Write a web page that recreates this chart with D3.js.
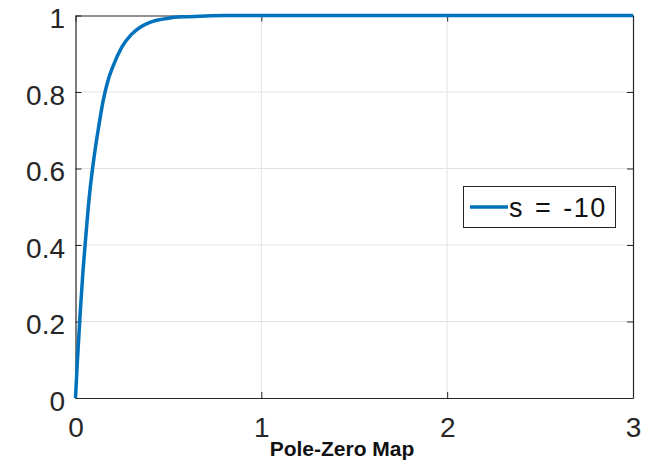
<!DOCTYPE html>
<html>
<head>
<meta charset="utf-8">
<script src="https://cdn.jsdelivr.net/npm/d3@7"></script>
<style>
  body { margin: 0; background: #fff; }
  svg { display: block; font-family: "Liberation Sans", Arial, sans-serif; }
</style>
</head>
<body>
<svg width="654" height="461"></svg>
<script>
// step response
const timeVals = [0, 0.01, 0.025, 0.04, 0.05, 0.075, 0.1, 0.125, 0.15, 0.175, 0.2, 0.25, 0.3, 0.35, 0.4, 0.5, 0.6, 0.7, 0.8, 1, 1.5, 2, 2.5, 3];
const respVals = [0, 0.095, 0.22, 0.33, 0.39, 0.53, 0.63, 0.71, 0.78, 0.83, 0.865, 0.918, 0.95, 0.97, 0.982, 0.993, 0.997, 0.999, 1, 1, 1, 1, 1, 1];
const xTicks = [0, 1, 2, 3];
const yTicks = [0, 0.2, 0.4, 0.6, 0.8, 1];
const legendLabel = 's = -10';
const titleText = 'Pole-Zero Map';

const plotL = 75.5, plotR = 633, plotT = 15.5, plotB = 398;
const axisColor = '#262626';
const labelSize = 28;

const svg = d3.select('svg');

const x = d3.scaleLinear().domain([0, 3]).range([plotL, plotR]);
const y = d3.scaleLinear().domain([0, 1]).range([plotB, plotT]);

// grid
const grid = svg.append('g').attr('stroke', '#e3e3e3').attr('stroke-width', 1);
grid.selectAll('.gx').data(xTicks.slice(1, -1)).enter().append('line')
    .attr('x1', d => x(d)).attr('x2', d => x(d))
    .attr('y1', plotT).attr('y2', plotB);
grid.selectAll('.gy').data(yTicks.slice(1, -1)).enter().append('line')
    .attr('x1', plotL).attr('x2', plotR)
    .attr('y1', d => y(d)).attr('y2', d => y(d));

// axes with inward ticks
const tickLen = 6;
const bottomAxis = svg.append('g')
    .attr('transform', `translate(0,${plotB})`)
    .call(d3.axisBottom(x).tickValues(xTicks).tickSizeInner(-tickLen).tickSizeOuter(0).tickPadding(19).tickFormat(d3.format('d')));
const leftAxis = svg.append('g')
    .attr('transform', `translate(${plotL},0)`)
    .call(d3.axisLeft(y).tickValues(yTicks).tickSizeInner(-tickLen).tickSizeOuter(0).tickPadding(10.5).tickFormat(d => d === 0 || d === 1 ? d3.format('d')(d) : d3.format('.1f')(d)));
const topAxis = svg.append('g')
    .attr('transform', `translate(0,${plotT})`)
    .call(d3.axisTop(x).tickValues(xTicks).tickSizeInner(-tickLen).tickSizeOuter(0).tickFormat(''));
const rightAxis = svg.append('g')
    .attr('transform', `translate(${plotR},0)`)
    .call(d3.axisRight(y).tickValues(yTicks).tickSizeInner(-tickLen).tickSizeOuter(0).tickFormat(''));

[bottomAxis, leftAxis, topAxis, rightAxis].forEach(a => {
  a.select('.domain').attr('stroke', axisColor).attr('stroke-width', 1.2);
  a.selectAll('.tick line').attr('stroke', axisColor).attr('stroke-width', 1);
  a.selectAll('.tick text')
      .attr('fill', axisColor)
      .attr('font-size', labelSize)
      .attr('font-family', '"Liberation Sans", Arial, sans-serif');
});
bottomAxis.selectAll('.tick text').attr('dy', '0.71em');
leftAxis.selectAll('.tick text').attr('dy', '0.43em');

// curve
const pts = timeVals.map((t, i) => [t, respVals[i]]);
const line = d3.line()
    .x(d => x(d[0]))
    .y(d => y(d[1]))
    .curve(d3.curveMonotoneX);

svg.append('path')
    .datum(pts)
    .attr('fill', 'none')
    .attr('stroke', '#0072BD')
    .attr('stroke-width', 3.5)
    .attr('stroke-linejoin', 'round')
    .attr('d', line);

// legend
const legend = svg.append('g');
legend.append('rect')
    .attr('x', 463.5).attr('y', 186.5)
    .attr('width', 152).attr('height', 41)
    .attr('fill', '#fff')
    .attr('stroke', axisColor).attr('stroke-width', 1);
legend.append('line')
    .attr('x1', 470).attr('x2', 508)
    .attr('y1', 207).attr('y2', 207)
    .attr('stroke', '#0072BD').attr('stroke-width', 3.5);
legend.append('text')
    .attr('x', 509).attr('y', 207)
    .attr('dy', '0.36em')
    .attr('font-size', 27)
    .attr('letter-spacing', 1.5)
    .attr('word-spacing', 2)
    .attr('fill', '#111')
    .text(legendLabel);

// title under x axis
svg.append('text')
    .attr('x', 342).attr('y', 456)
    .attr('text-anchor', 'middle')
    .attr('font-size', 21)
    .attr('font-weight', 'bold')
    .attr('fill', '#111')
    .text(titleText);
</script>
</body>
</html>
